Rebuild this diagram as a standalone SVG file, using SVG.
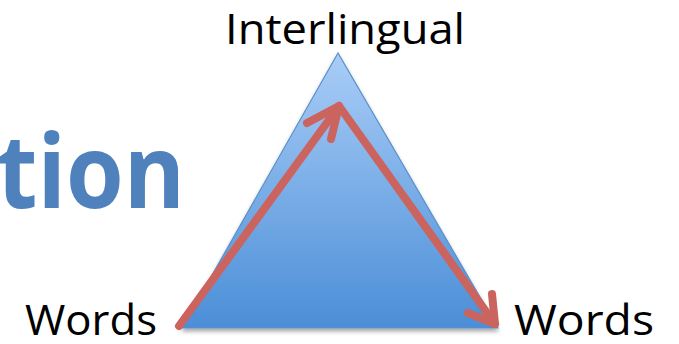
<svg xmlns="http://www.w3.org/2000/svg" width="679" height="344" viewBox="0 0 679 344">
<style>
.lbl{font-family:"Open Sans","Liberation Sans",sans-serif;font-size:42px;fill:#000}
.arrow{fill:none;stroke:#CB645E;stroke-width:8;stroke-linecap:round;stroke-linejoin:round}
</style>
<defs>
<linearGradient id="tg" x1="0" y1="0" x2="0" y2="1">
<stop offset="0" stop-color="#A9CDF7"/>
<stop offset="1" stop-color="#4B8ED7"/>
</linearGradient>
<filter id="sh" x="-10%" y="-10%" width="120%" height="130%">
<feGaussianBlur in="SourceAlpha" stdDeviation="2"/>
<feOffset dy="3" result="b"/>
<feComponentTransfer><feFuncA type="linear" slope="0.35"/></feComponentTransfer>
<feMerge><feMergeNode/><feMergeNode in="SourceGraphic"/></feMerge>
</filter>
</defs>
<text x="185" y="208" text-anchor="end" font-family="Open Sans, Liberation Sans, sans-serif" font-weight="700" font-size="102" fill="#4F81BD" textLength="188" lengthAdjust="spacingAndGlyphs">tion</text>
<g id="triangle">
<polygon points="338,53 182,328 498,328" fill="url(#tg)" stroke="#5A8FCB" stroke-width="1.2" filter="url(#sh)"/>
</g>
<g id="label-interlingual"><text class="lbl" x="225" y="44" textLength="240" lengthAdjust="spacingAndGlyphs">Interlingual</text></g>
<g id="label-words-left"><text class="lbl" x="25" y="335" textLength="132" lengthAdjust="spacingAndGlyphs">Words</text></g>
<g id="label-words-right"><text class="lbl" x="514" y="335" textLength="140" lengthAdjust="spacingAndGlyphs">Words</text></g>
<g id="connectors">
<path class="arrow" d="M179,326 L339,106"/>
<path class="arrow" d="M307,123 L339,106 L331,139"/>
<path class="arrow" d="M339,106 L495,324"/>
<path class="arrow" d="M492,294 L495,324 L468,313"/>
</g>
</svg>
